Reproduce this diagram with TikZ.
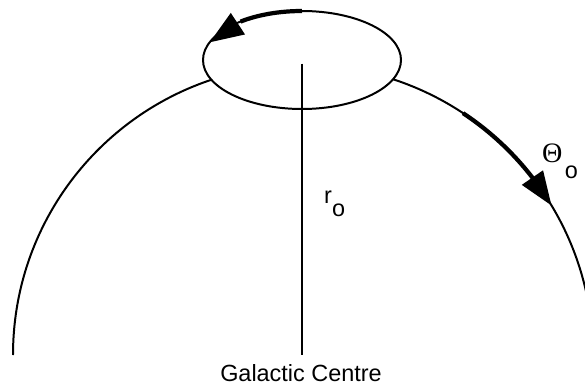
\documentclass[tikz,border=0pt]{standalone}
\usepackage{fontspec}
\setmainfont{Liberation Sans}
\newfontfamily\symbfont{Liberation Serif}
\usetikzlibrary{arrows.meta, bending}
\tikzset{
  orbit/.style={line width=1.7pt, color=black},
  motion/.style={line width=3.6pt, color=black,
    -{Triangle[length=29pt, width=21pt, flex]}},
  txtlabel/.style={font=\fontsize{20}{24}\selectfont, inner sep=0pt}
}

\begin{document}
\begin{tikzpicture}[x=0.03cm, y=0.03cm]
  \useasboundingbox (0,0) rectangle (585,385);
  \clip (0,0) rectangle (585,385);
  % galactic orbit
  \coordinate (gc) at (303,30);
  \draw[orbit] (gc) ++(180:290) arc[start angle=180, end angle=0, radius=290];
  \draw[motion] (gc) ++(56.5:290) arc[start angle=56.5, end angle=31, radius=290];
  % epicycle round the Sun
  \coordinate (sun) at (302,325);
  \draw[orbit, fill=white] (sun) ellipse[x radius=99, y radius=49];
  \draw[motion] (sun) ++(90:99 and 49) arc[start angle=90, end angle=159, x radius=99, y radius=49];
  % radius to the centre
  \draw[orbit] ([yshift=-3]sun) -- (sun |- gc);
  % labels
  \node[txtlabel, anchor=base] (gclabel) at (301,3.5) {Galactic Centre};
  \node[txtlabel, anchor=base west] (rlabel) at (324,181) {r\raisebox{-11pt}{o}};
  \node[txtlabel, anchor=base west] (vlabel) at (542,222) {{\symbfont\fontsize{24}{28}\selectfont Θ}\kern2pt\raisebox{-13.5pt}{o}};
\end{tikzpicture}
\end{document}
